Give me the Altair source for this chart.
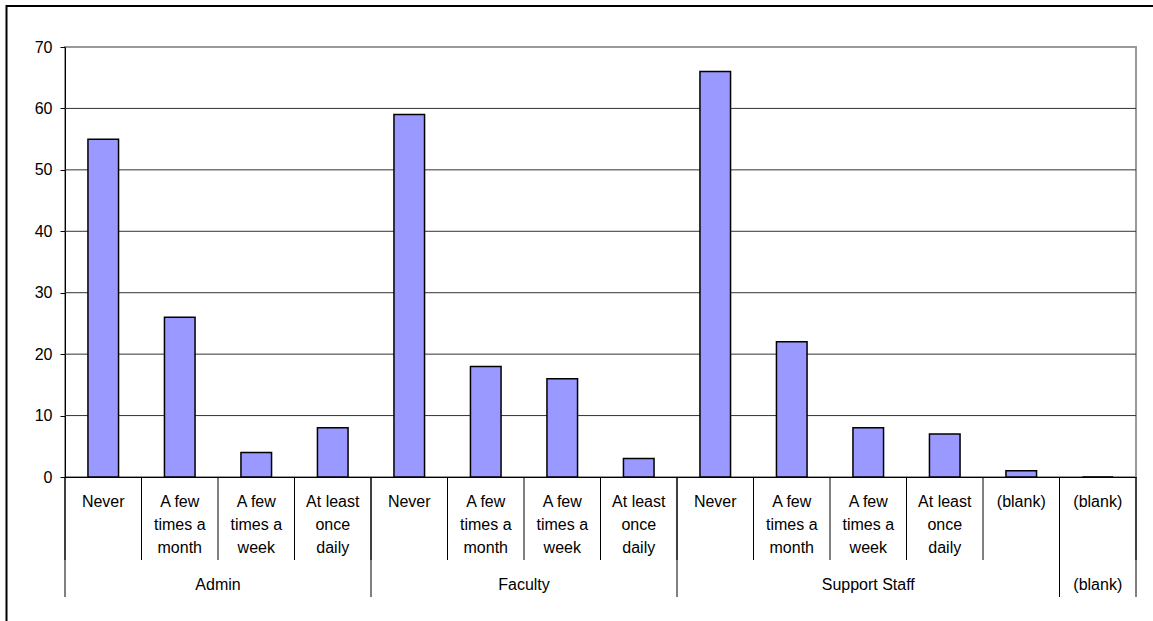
import altair as alt
import pandas as pd

# Survey responses by staff group
groups = ["Admin", "Faculty", "Support Staff", "(blank)"]
answers = [
    ["Never", "A few\ntimes a\nmonth", "A few\ntimes a\nweek", "At least\nonce\ndaily"],
    ["Never", "A few\ntimes a\nmonth", "A few\ntimes a\nweek", "At least\nonce\ndaily"],
    ["Never", "A few\ntimes a\nmonth", "A few\ntimes a\nweek", "At least\nonce\ndaily", "(blank)"],
    ["(blank)"],
]
counts = [
    [55, 26, 4, 8],
    [59, 18, 16, 3],
    [66, 22, 8, 7, 1],
    [0],
]
y_ticks = [0, 10, 20, 30, 40, 50, 60, 70]

FONT = "Liberation Sans"
W, H = 1071, 430

# One slot per (group, answer) pair along the category axis
bar_rows, group_rows = [], []
slot = 0
for g, ans, cnt in zip(groups, answers, counts):
    start = slot
    for a, c in zip(ans, cnt):
        bar_rows.append({"group": g, "answer": a, "count": c, "slot": slot})
        slot += 1
    group_rows.append({"group": g, "start": start, "end": slot})
n_slots = slot

bars_df = pd.DataFrame(bar_rows)
groups_df = pd.DataFrame(group_rows)
inner_edges = pd.DataFrame({"edge": list(range(n_slots + 1))})
outer_edges = pd.DataFrame({"edge": [0] + [r["end"] for r in group_rows]})
grid_df = pd.DataFrame({"v": y_ticks[1:-1]})

xs = alt.Scale(domain=[0, n_slots], nice=False, zero=False)
ys = alt.Scale(domain=[y_ticks[0], y_ticks[-1]], nice=False, zero=True)

x_axis = alt.Axis(labels=False, ticks=False, grid=False, title=None,
                  domainColor="black", domainWidth=1)
y_axis = alt.Axis(values=y_ticks, grid=False, title=None, tickSize=5,
                  tickColor="black", domainColor="black", labelColor="black",
                  labelFont=FONT, labelFontSize=16, labelPadding=8)

frame = alt.Chart(pd.DataFrame({"k": [0]})).mark_rect(
    fill="transparent", stroke="black", strokeWidth=2
).encode(
    x=alt.value(-58.5), x2=alt.value(W + 200),
    y=alt.value(-41), y2=alt.value(H + 300),
)

grid = alt.Chart(grid_df).mark_rule(color="#333333", strokeWidth=1).encode(
    y=alt.Y("v:Q", scale=ys, axis=y_axis),
    x=alt.value(0), x2=alt.value(W),
)

bars = alt.Chart(bars_df).transform_calculate(
    x0="datum.slot + 0.3", x1="datum.slot + 0.7"
).mark_bar(color="#9999FF", stroke="black", strokeWidth=1.5).encode(
    x=alt.X("x0:Q", scale=xs, axis=x_axis),
    x2="x1:Q",
    y=alt.Y("count:Q", scale=ys, axis=y_axis),
    y2=alt.datum(0),
)

inner_sep = alt.Chart(inner_edges).mark_rule(color="black", strokeWidth=1).encode(
    x=alt.X("edge:Q", scale=xs, axis=x_axis),
    y=alt.value(H), y2=alt.value(H + 83),
)
outer_sep = alt.Chart(outer_edges).mark_rule(color="black", strokeWidth=1).encode(
    x=alt.X("edge:Q", scale=xs, axis=x_axis),
    y=alt.value(H), y2=alt.value(H + 120),
)

inner_text = alt.Chart(bars_df).transform_calculate(
    xc="datum.slot + 0.5"
).mark_text(
    font=FONT, fontSize=16, color="black", align="center",
    baseline="alphabetic", lineBreak="\n", lineHeight=23.3,
).encode(
    x=alt.X("xc:Q", scale=xs, axis=x_axis),
    y=alt.value(459.7),
    text="answer:N",
)

outer_text = alt.Chart(groups_df).transform_calculate(
    xc="(datum.start + datum.end) / 2"
).mark_text(
    font=FONT, fontSize=16, color="black", align="center", baseline="alphabetic",
).encode(
    x=alt.X("xc:Q", scale=xs, axis=x_axis),
    y=alt.value(543),
    text="group:N",
)

chart = alt.layer(
    frame, grid, bars, inner_sep, outer_sep, inner_text, outer_text
).properties(
    width=W, height=H,
    autosize=alt.AutoSizeParams(type="none"),
    padding={"left": 65, "top": 47, "right": 17, "bottom": 144},
    background="white",
).configure_view(stroke="#999999", strokeWidth=2)

chart.save("out.html", embed_options={"renderer": "svg", "actions": False})
